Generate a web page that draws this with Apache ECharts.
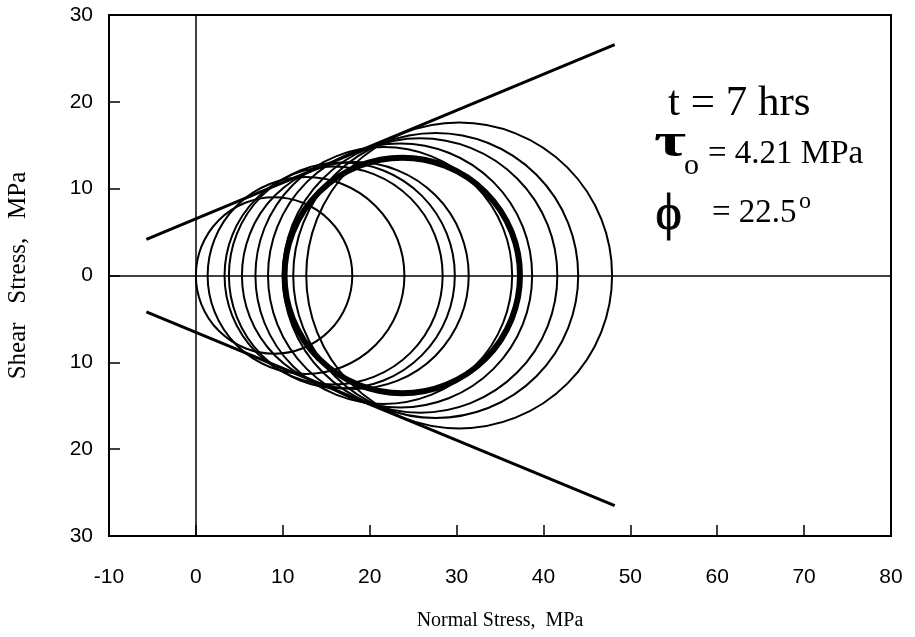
<!DOCTYPE html>
<html><head><meta charset="utf-8">
<script src="https://cdn.jsdelivr.net/npm/echarts@6/dist/echarts.min.js"></script>
<style>html,body{margin:0;padding:0;background:#fff}#c{width:915px;height:637px}</style>
</head><body><div id="c"></div>
<script>
// Axis ranges / ticks
const xMin = -10, xMax = 80, xStep = 10;
const yMin = -30, yMax = 30, yStep = 10;
// Mohr circles: minor (sigma3) and major (sigma1) principal stresses, MPa
const sigma3 = [0.0, 1.35, 3.3, 3.8, 5.3, 6.85, 8.3, 10.0, 11.2, 12.7];
const sigma1 = [18.0, 24.0, 28.4, 29.8, 31.4, 36.4, 38.7, 41.6, 44.0, 47.9];
// Heavy (average) circle
const boldSigma3 = [10.2];
const boldSigma1 = [37.3];
// Failure envelope end points [sigma, tau]
const upperEnvelope = [[-5.7, 4.15], [48.2, 26.6]];
const lowerEnvelope = [[-5.7, -4.2], [48.2, -26.5]];

const circleData = sigma3.map((s, i) => [s, sigma1[i]]);
const boldData = boldSigma3.map((s, i) => [s, boldSigma1[i]]);

function circleRenderer(width) {
  return function (params, api) {
    const s3 = api.value(0), s1 = api.value(1);
    const c = api.coord([(s1 + s3) / 2, 0]);
    const r = api.size([(s1 - s3) / 2, 0])[0];
    return { type: 'circle', shape: { cx: c[0], cy: c[1], r: r },
             style: { fill: null, stroke: '#000', lineWidth: width } };
  };
}

const chart = echarts.init(document.getElementById('c'), null, { renderer: 'canvas' });
const sans = 'Liberation Sans, Arial, sans-serif';
const serif = 'Liberation Serif, Times New Roman, serif';
chart.setOption({
  animation: false,
  backgroundColor: '#fff',
  grid: { left: 109, right: 24, top: 15, bottom: 101, show: true, borderColor: '#000', borderWidth: 2,
          containLabel: false, outerBoundsMode: 'none' },
  xAxis: {
    type: 'value', min: xMin, max: xMax, interval: xStep,
    axisLine: { show: false, onZero: false },
    axisTick: { show: true, inside: true, length: 11, lineStyle: { color: '#000', width: 1.5 } },
    splitLine: { show: false },
    axisLabel: { color: '#000', fontSize: 21, fontFamily: sans, margin: 31 },
    name: 'Normal Stress,  MPa', nameLocation: 'middle', nameGap: 75,
    nameTextStyle: { color: '#000', fontSize: 20, fontFamily: serif }
  },
  yAxis: {
    type: 'value', min: yMin, max: yMax, interval: yStep,
    axisLine: { show: false, onZero: false },
    axisTick: { show: true, inside: true, length: 11, lineStyle: { color: '#000', width: 1.5 } },
    splitLine: { show: false },
    axisLabel: { color: '#000', fontSize: 21, fontFamily: sans, margin: 16, formatter: v => String(Math.abs(v)) },
    name: 'Shear   Stress,   MPa', nameLocation: 'middle', nameGap: 78,
    nameTextStyle: { color: '#000', fontSize: 25, fontFamily: serif }
  },
  series: [
    { type: 'custom', data: circleData, renderItem: circleRenderer(2), silent: true, clip: true },
    { type: 'custom', data: boldData, renderItem: circleRenderer(6), silent: true, clip: true },
    { type: 'line', data: upperEnvelope, symbol: 'none', lineStyle: { color: '#000', width: 3 }, silent: true,
      markLine: { silent: true, symbol: 'none', label: { show: false },
        lineStyle: { color: '#000', width: 1.5, type: 'solid' },
        data: [{ xAxis: 0 }, { yAxis: 0 }] } },
    { type: 'line', data: lowerEnvelope, symbol: 'none', lineStyle: { color: '#000', width: 3 }, silent: true }
  ],
  graphic: [
    { type: 'text', left: 668, top: 82, style: { text: 't = 7 hrs', font: '43px ' + serif, fill: '#000' } },
    { type: 'text', x: 654, y: 120, scaleX: 1.45, style: { text: 'τ', font: 'bold 48px ' + serif, fill: '#000' } },
    { type: 'text', left: 684, top: 151, style: { text: 'o', font: '30px ' + serif, fill: '#000' } },
    { type: 'text', left: 708, top: 138, style: { text: '= 4.21 MPa', font: '33px ' + serif, fill: '#000' } },
    { type: 'text', left: 655, top: 190, style: { text: 'ϕ', font: '50px ' + serif, fill: '#000', stroke: '#000', lineWidth: 0.8 } },
    { type: 'text', left: 712, top: 197, style: { text: '= 22.5', font: '33px ' + serif, fill: '#000' } },
    { type: 'text', left: 799, top: 190, style: { text: 'o', font: '24px ' + serif, fill: '#000' } }
  ]
});
</script></body></html>
